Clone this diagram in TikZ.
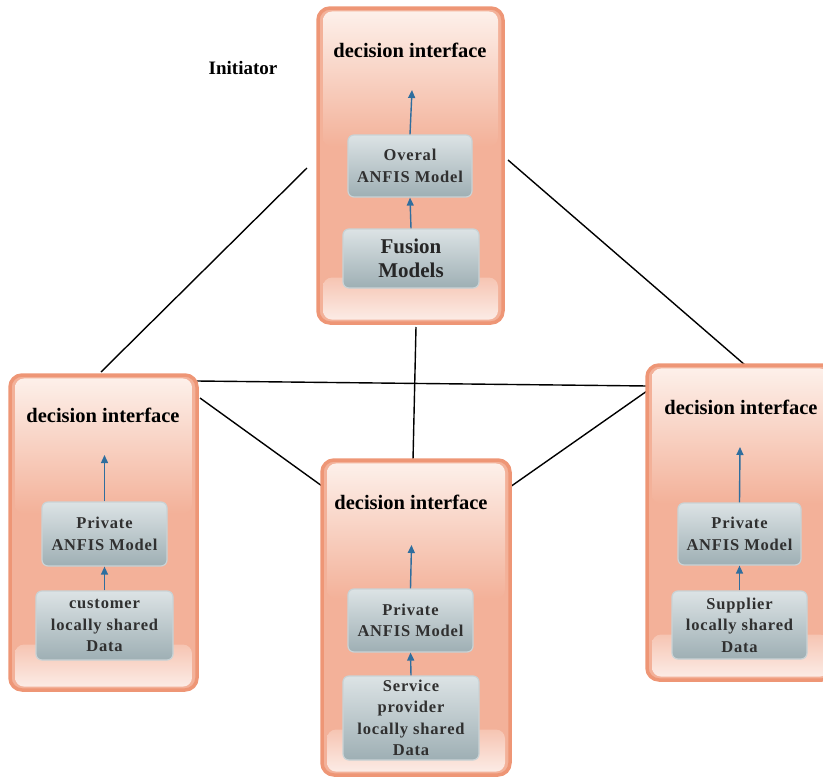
\documentclass[tikz,border=0pt]{standalone}
\usepackage{fontspec}
\setmainfont{Liberation Serif}
\usetikzlibrary{arrows.meta}
\definecolor{pborder}{HTML}{EE9676}
\definecolor{pfill}{HTML}{F3B199}
\definecolor{plight}{HTML}{FDF0EA}
\definecolor{bedge}{HTML}{C9D3D6}
\definecolor{btop}{HTML}{DCE3E5}
\definecolor{bbot}{HTML}{9EAFB4}
\definecolor{flow}{HTML}{2F6E9E}
\definecolor{btext}{HTML}{303030}
\tikzset{
  panel/.style={draw=pborder, line width=3.5pt, rounded corners=12pt, fill=pfill,
    minimum width=#1, minimum height=315pt, inner sep=0pt},
  panel/.default=187pt,
  glosstop/.style={rounded corners=9pt, top color=plight, bottom color=pfill,
    minimum height=135pt, inner sep=0pt, anchor=north},
  glossbot/.style={rounded corners=9pt, top color=pfill!75!white, bottom color=pfill!25!white,
    minimum height=42pt, inner sep=0pt, anchor=south},
  title/.style={font=\bfseries\fontsize{20.5}{24}\selectfont, text=black},
  inbox/.style={draw=bedge, line width=1.2pt, rounded corners=6pt,
    top color=btop, bottom color=bbot, inner sep=0pt, align=center,
    text=btext, font=\bfseries\fontsize{16.5}{21.5}\selectfont\addfontfeatures{LetterSpace=5}},
  flowarrow/.style={draw=flow, line width=1.4pt, -{Triangle[length=8pt,width=7pt]}},
  link/.style={draw=black, line width=1.4pt}
}
% one site panel with its glossy highlights: name, centre, width (pt)
\newcommand\sitepanel[3]{%
  \node[panel=#3pt] (#1) at (#2) {};
  \node[glosstop, minimum width={(#3-10)*1pt}] (#1-hi) at ([yshift=-5pt]#1.north) {};
  \node[glossbot, minimum width={(#3-10)*1pt}] (#1-lo) at ([yshift=5pt]#1.south) {};
}
\begin{document}
\begin{tikzpicture}[x=1pt, y=-1pt]
\useasboundingbox (0,0) rectangle (823,777);
\clip (0,0) rectangle (823,777);

% connectors between the four sites
\coordinate (a1) at (307,168); \coordinate (a2) at (101,372);
\coordinate (b1) at (508,160); \coordinate (b2) at (745,365);
\coordinate (c1) at (197,381); \coordinate (c2) at (648,386);
\coordinate (d1) at (200,398); \coordinate (d2) at (322,486);
\coordinate (e1) at (416,327); \coordinate (e2) at (413,460);
\coordinate (f1) at (510,487); \coordinate (f2) at (647,391);
\draw[link] (a1) -- (a2);
\draw[link] (b1) -- (b2);
\draw[link] (c1) -- (c2);
\draw[link] (d1) -- (d2);
\draw[link] (e1) -- (e2);
\draw[link] (f1) -- (f2);

% panels
\sitepanel{top}{410.5,165.5}{185}
\sitepanel{left}{103.5,532.5}{187}
\sitepanel{mid}{416,617.5}{188}
\sitepanel{right}{740.5,522.5}{187}

\node[font=\bfseries\fontsize{19}{22}\selectfont] (init) at (243,68) {Initiator};

% initiator site
\node[title] (ttop) at (410,50) {decision interface};
\node[inbox, minimum width=124pt, minimum height=62pt] (over) at (410,166) {Overal\\ANFIS Model};
\node[inbox, minimum width=136pt, minimum height=59pt, text=black!85,
  font=\bfseries\fontsize{21}{24}\selectfont] (fus) at (411,258.5) {Fusion\\Models};
\coordinate (ttip) at (412,90);
\draw[flowarrow] (over.north) -- (ttip);
\draw[flowarrow] (fus.north) -- (over.south);

% customer site
\node[title] (tleft) at (103,415) {decision interface};
\node[inbox, minimum width=125pt, minimum height=64pt] (lpriv) at (104.5,534) {Private\\ANFIS Model};
\node[inbox, minimum width=137pt, minimum height=69pt] (ldata) at (104.5,625.5) {customer\\locally shared\\Data};
\coordinate (ltip) at (104.5,455);
\draw[flowarrow] (lpriv.north) -- (ltip);
\draw[flowarrow] (ldata.north) -- (lpriv.south);

% service provider site
\node[title] (tmid) at (411,502) {decision interface};
\node[inbox, minimum width=125pt, minimum height=63pt] (mpriv) at (410.5,620.5) {Private\\ANFIS Model};
\node[inbox, minimum width=136pt, minimum height=84pt] (mdata) at (411,718) {Service\\provider\\locally shared\\Data};
\coordinate (mtip) at (411.5,545);
\draw[flowarrow] (mpriv.north) -- (mtip);
\draw[flowarrow] (mdata.north) -- (mpriv.south);

% supplier site
\node[title] (tright) at (741,407) {decision interface};
\node[inbox, minimum width=123pt, minimum height=62pt] (rpriv) at (739.5,534) {Private\\ANFIS Model};
\node[inbox, minimum width=135pt, minimum height=68pt] (rdata) at (739.5,625) {Supplier\\locally shared\\Data};
\coordinate (rtip) at (740,447);
\draw[flowarrow] (rpriv.north) -- (rtip);
\draw[flowarrow] (rdata.north) -- (rpriv.south);
\end{tikzpicture}
\end{document}
